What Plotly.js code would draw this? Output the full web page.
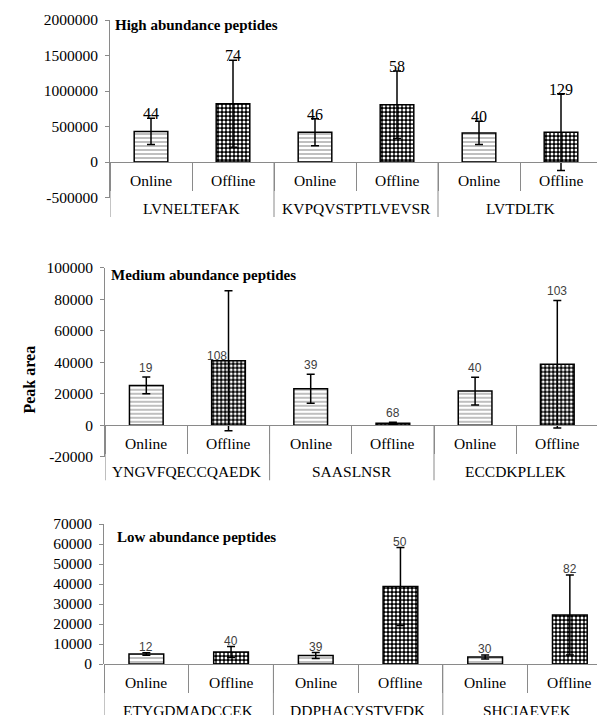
<!DOCTYPE html>
<html><head><meta charset="utf-8">
<script src="https://cdn.plot.ly/plotly-3.0.1.min.js"></script>
<style>html,body{margin:0;padding:0;background:#fff;overflow:hidden}</style>
</head><body><div id="chart" style="width:597px;height:715px"></div>
<script>
// ---------------- data ----------------
const subLabels = ['Online', 'Offline'];

const highPeptides = ['LVNELTEFAK', 'KVPQVSTPTLVEVSR', 'LVTDLTK'];
const highOnline = [430000, 420000, 410000];
const highOnlineErr = [185000, 190000, 165000];
const highOnlineN = [44, 46, 40];
const highOffline = [820000, 805000, 420000];
const highOfflineErr = [612000, 475000, 540000];
const highOfflineN = [74, 58, 129];
const highTicks = [-500000, 0, 500000, 1000000, 1500000, 2000000];

const medPeptides = ['YNGVFQECCQAEDK', 'SAASLNSR', 'ECCDKPLLEK'];
const medOnline = [25300, 23200, 21700];
const medOnlineErr = [5300, 9200, 8800];
const medOnlineN = [19, 39, 40];
const medOffline = [41000, 1300, 38800];
const medOfflineErr = [44400, 600, 40500];
const medOfflineN = [108, 68, 103];
const medTicks = [-20000, 0, 20000, 40000, 60000, 80000, 100000];

const lowPeptides = ['ETYGDMADCCEK', 'DDPHACYSTVFDK', 'SHCIAEVEK'];
const lowOnline = [5000, 4200, 3500];
const lowOnlineErr = [600, 1500, 1000];
const lowOnlineN = [12, 39, 30];
const lowOffline = [6000, 38700, 24500];
const lowOfflineErr = [2700, 19500, 20000];
const lowOfflineN = [40, 50, 82];
const lowTicks = [0, 10000, 20000, 30000, 40000, 50000, 60000, 70000];

const panelTitles = ['High abundance peptides', 'Medium abundance peptides', 'Low abundance peptides'];
const yAxisTitle = 'Peak area';

// ---------------- styling / layout ----------------
const W = 597, H = 715;
const serif = 'Liberation Serif';
const sans = 'Liberation Sans';
const gray = '#8a8a8a';

const panels = [
  { peps: highPeptides, on: highOnline, onE: highOnlineErr, onN: highOnlineN,
    off: highOffline, offE: highOfflineErr, offN: highOfflineN, ticks: highTicks,
    x0: 110, cw: 82, yTop: 20, yBot: 197.5,
    lblFont: { family: serif, size: 16, color: 'black' }, lblShift: 4.5,
    titleX: 113, titleY: 25 },
  { peps: medPeptides, on: medOnline, onE: medOnlineErr, onN: medOnlineN,
    off: medOffline, offE: medOfflineErr, offN: medOfflineN, ticks: medTicks,
    x0: 105.2, cw: 82.2, yTop: 267.8, yBot: 456.8,
    lblFont: { family: sans, size: 12, color: '#404040' }, lblShift: 9,
    titleX: 109, titleY: 275, barTopLabel: 108 },
  { peps: lowPeptides, on: lowOnline, onE: lowOnlineErr, onN: lowOnlineN,
    off: lowOffline, offE: lowOfflineErr, offN: lowOfflineN, ticks: lowTicks,
    x0: 104, cw: 84.7, yTop: 524, yBot: 664,
    lblFont: { family: sans, size: 12, color: '#404040' }, lblShift: 6,
    titleX: 115, titleY: 536.7 }
];

const onlinePattern = { shape: '-', fgcolor: '#8c8c8c', bgcolor: 'white', size: 4, solidity: 0.28 };
const offlinePattern = { shape: '.', fgcolor: 'white', bgcolor: 'black', size: 4, solidity: 0.45 };
const catFont = { family: serif, size: 15.5, color: 'black' };

const data = [];
const annotations = [];
const shapes = [];
const layout = {
  width: W, height: H, margin: { l: 0, r: 0, t: 0, b: 0 },
  paper_bgcolor: 'white', plot_bgcolor: 'rgba(0,0,0,0)',
  barmode: 'overlay', showlegend: false, font: { family: serif, color: 'black' }
};

panels.forEach((p, k) => {
  const sfx = k === 0 ? '' : String(k + 1);
  const xa = 'x' + sfx, ya = 'y' + sfx;
  const yd = [1 - p.yBot / H, 1 - p.yTop / H];
  const range = [p.ticks[0], p.ticks[p.ticks.length - 1]];
  const rEnd = -0.5 + (W - p.x0) / p.cw;
  const zeroPos = yd[0] + (0 - range[0]) / (range[1] - range[0]) * (yd[1] - yd[0]);
  const nSub = subLabels.length;

  const mk = (sub, vals, errs, pattern) => ({
    type: 'bar', x: [p.peps, p.peps.map(() => sub)], y: vals, xaxis: xa, yaxis: ya,
    width: 0.41,
    marker: { color: 'white', line: { color: 'black', width: 1.5 }, pattern: pattern },
    error_y: { type: 'data', array: errs, visible: true, color: 'black', thickness: 1.5, width: 4 },
    hoverinfo: 'skip'
  });
  data.push(mk(subLabels[0], p.on, p.onE, onlinePattern));
  data.push(mk(subLabels[1], p.off, p.offE, offlinePattern));

  layout['xaxis' + sfx] = {
    type: 'multicategory', domain: [p.x0 / W, 1], range: [-0.5, rEnd],
    anchor: 'free', position: zeroPos,
    showline: true, linecolor: gray, linewidth: 1,
    showticklabels: false, showdividers: false,
    ticks: 'outside', tickson: 'boundaries', ticklen: 28, tickcolor: gray, tickwidth: 1,
    showgrid: false, zeroline: false, fixedrange: true
  };
  layout['yaxis' + sfx] = {
    domain: yd, range: range, tickmode: 'array', tickvals: p.ticks,
    ticktext: p.ticks.map(v => String(v)), anchor: xa,
    showline: true, linecolor: gray, linewidth: 1,
    ticks: 'outside', ticklen: 4, tickcolor: gray, ticklabelstandoff: 4,
    tickfont: { family: serif, size: 15.5, color: 'black' },
    showgrid: false, zeroline: false, fixedrange: true
  };

  // category labels (two levels) and group dividers
  p.peps.forEach((g, i) => {
    subLabels.forEach((s, j) => {
      annotations.push({
        xref: xa, yref: 'paper', x: i * nSub + j, y: zeroPos, yshift: -18.5,
        xanchor: 'center', yanchor: 'middle', showarrow: false, text: s, font: catFont
      });
    });
    annotations.push({
      xref: xa, yref: 'paper', x: i * nSub + (nSub - 1) / 2, y: zeroPos, yshift: -46,
      xanchor: 'center', yanchor: 'middle', showarrow: false, text: g, font: catFont
    });
  });
  for (let i = 0; i <= p.peps.length; i++) {
    shapes.push({
      type: 'line', xref: xa, yref: 'paper', ysizemode: 'pixel', yanchor: zeroPos,
      x0: i * nSub - 0.5, x1: i * nSub - 0.5, y0: 0, y1: -55,
      line: { color: gray, width: 1 }
    });
  }

  // count labels
  p.peps.forEach((g, i) => {
    [[p.on, p.onE, p.onN, 0], [p.off, p.offE, p.offN, 1]].forEach(([v, e, n, j]) => {
      const atBar = p.barTopLabel === n[i];
      annotations.push({
        xref: xa, yref: ya, x: i * nSub + j, y: atBar ? v[i] : v[i] + e[i],
        text: String(n[i]), showarrow: false, yanchor: 'middle', xanchor: 'center',
        yshift: atBar ? 5 : p.lblShift, xshift: atBar ? -12 : 0, font: p.lblFont
      });
    });
  });

  annotations.push({
    xref: 'paper', yref: 'paper', x: p.titleX / W, y: 1 - p.titleY / H,
    xanchor: 'left', yanchor: 'middle', showarrow: false,
    text: '<b>' + panelTitles[k] + '</b>', font: { family: serif, size: 15, color: 'black' }
  });
});

annotations.push({
  xref: 'paper', yref: 'paper', x: 18 / W, y: 1 - 380 / H, textangle: -90,
  showarrow: false, text: '<b>' + yAxisTitle + '</b>',
  font: { family: serif, size: 16, color: 'black' }
});
layout.annotations = annotations;
layout.shapes = shapes;

Plotly.newPlot('chart', data, layout, { displayModeBar: false, staticPlot: true });
</script></body></html>
